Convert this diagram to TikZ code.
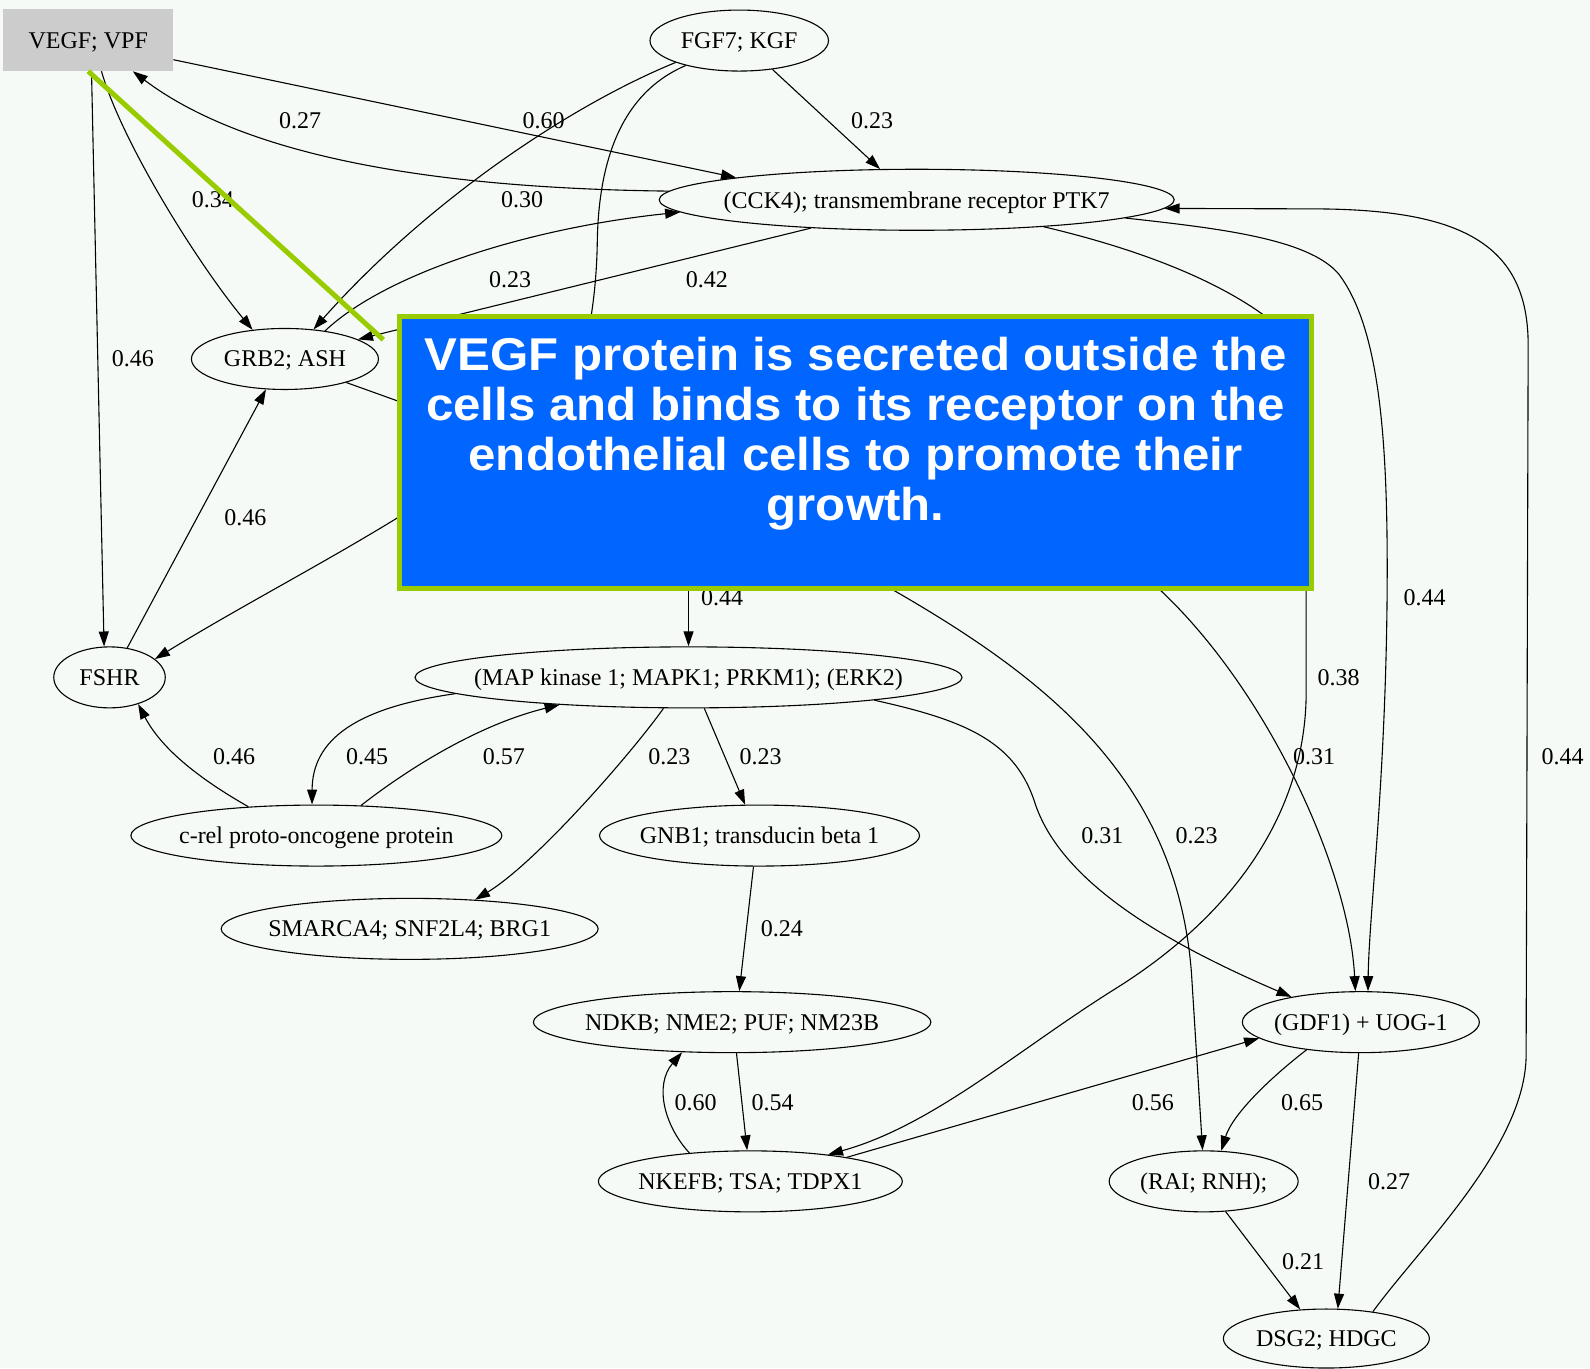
\documentclass[tikz,border=0pt]{standalone}
\usepackage{fontspec}
\setmainfont{Liberation Serif}
\newfontfamily\calloutfont[FakeStretch=1.07]{Liberation Sans}
\usetikzlibrary{shapes.geometric,arrows.meta}

\definecolor{paper}{RGB}{246,250,246}
\definecolor{vegfgray}{RGB}{204,204,204}
\definecolor{calloutblue}{RGB}{0,102,255}
\definecolor{calloutgreen}{RGB}{153,204,0}

% gene labels are set in a zero-width box so the ellipse size comes from minimum width
\newcommand\genetext[1]{\makebox[0pt]{#1}}

\begin{document}
\begin{tikzpicture}[x=1.014pt,y=-1.014pt,
  gene/.style={ellipse,draw,line width=1.1pt,inner sep=0pt,minimum height=61pt,
    text depth=0pt,font=\fontsize{24}{28}\selectfont},
  link/.style={line width=1.1pt,-{Triangle[length=15pt,width=10pt]}},
  plainlink/.style={line width=1.1pt},
  wt/.style={font=\fontsize{24}{28}\selectfont,inner sep=0pt},
  callout/.style={draw=calloutgreen,fill=calloutblue,line width=5.2pt,inner sep=0pt,
    minimum width=912pt,minimum height=272pt},
]
% canvas
\fill[paper] (0,0) rectangle (1568,1349);

% ---------------- nodes ----------------
\node[fill=vegfgray,inner sep=0pt,minimum width=170pt,minimum height=62pt,text depth=0pt,
      font=\fontsize{24}{28}\selectfont] (vegf) at (87,39.5) {VEGF; VPF};
\node[gene,minimum width=178.5pt] (fgf) at (729,40) {\genetext{FGF7; KGF}};
\node[gene,minimum width=515pt] (cck) at (904,197) {\genetext{(CCK4); transmembrane receptor PTK7}};
\node[gene,minimum width=187pt] (grb) at (281,354) {\genetext{GRB2; ASH}};
\node[gene,minimum width=111.5pt] (fshr) at (108,668) {\genetext{FSHR}};
\node[gene,minimum width=547pt] (map) at (679,668) {\genetext{(MAP kinase 1; MAPK1; PRKM1); (ERK2)}};
\node[gene,minimum width=371pt] (crel) at (312,824) {\genetext{c-rel proto-oncogene protein}};
\node[gene,minimum width=320pt] (gnb) at (749,824) {\genetext{GNB1; transducin beta 1}};
\node[gene,minimum width=377pt] (smarca) at (404,916) {\genetext{SMARCA4; SNF2L4; BRG1}};
\node[gene,minimum width=397.5pt] (ndkb) at (722,1008) {\genetext{NDKB; NME2; PUF; NM23B}};
\node[gene,minimum width=237pt] (gdf) at (1342,1008) {\genetext{(GDF1) + UOG-1}};
\node[gene,minimum width=304pt] (nkefb) at (740,1165) {\genetext{NKEFB; TSA; TDPX1}};
\node[gene,minimum width=189pt] (rai) at (1187,1165) {\genetext{(RAI; RNH);}};
\node[gene,minimum width=206pt,minimum height=59pt] (dsg) at (1308,1320) {\genetext{DSG2; HDGC}};

% ends of connectors that run under the note
\coordinate (fgfin) at (578,345);
\coordinate (grbout) at (430,409);
\coordinate (hubfshr) at (440,480);
\coordinate (cckout) at (1275,335);
\coordinate (hubmap) at (679,560);
\coordinate (hubrai) at (860,570);
\coordinate (hubgdf) at (1125,565);
\coordinate (hubnk) at (1288,565);
\coordinate (pin) at (378,335);

% ---------------- connectors ----------------
\draw[link] (vegf.-13) -- (cck.173);
\draw[link] (cck.178) .. controls (450,186) and (250,160) .. (vegf.-35);
\draw[link] (vegf.-67) .. controls (120,140) and (195,260) .. (grb.138);
\draw[link] (vegf.-84) -- (fshr.100);

\draw[link] (fgf.199) .. controls (560,105) and (420,200) .. (grb.46);
\draw[plainlink] (fgf.205) .. controls (612,92) and (590,160) .. (589,240)
  .. controls (588,290) and (582,315) .. (fgfin);
\draw[link] (fgf.-41) -- (cck.140);

\draw[link] (grb.35) .. controls (380,270) and (520,225) .. (cck.183);
\draw[link] (cck.195) -- (grb.15);
\draw[link] (fshr.59) -- (grb.238);
\draw[plainlink] (grb.-21) -- (grbout);
\draw[link] (hubfshr) .. controls (350,540) and (250,590) .. (fshr.22);

\draw[plainlink] (cck.-12) .. controls (1120,245) and (1220,280) .. (cckout);
\draw[link] (cck.-5) .. controls (1200,225) and (1290,235) .. (1320,270)
  .. controls (1358,320) and (1368,420) .. (1368,560)
  .. controls (1368,760) and (1350,900) .. (gdf.77);
\draw[link] (dsg.30) .. controls (1400,1230) and (1505,1130) .. (1505,1040)
  -- (1507,340) .. controls (1507,240) and (1440,207) .. (1300,206) -- (cck.-2);

\draw[link] (hubmap) -- (map.90);
\draw[link] (hubrai) .. controls (1020,660) and (1160,760) .. (1175,960) -- (rai.92);
\draw[link] (hubgdf) .. controls (1240,660) and (1330,850) .. (gdf.100);
\draw[link] (hubnk) -- (1288,690) .. controls (1285,800) and (1220,900) .. (1100,975)
  .. controls (1004,1035) and (920,1110) .. (nkefb.19);

\draw[link] (map.-7) .. controls (950,710) and (1000,730) .. (1020,790)
  .. controls (1045,870) and (1150,930) .. (gdf.160);
\draw[link] (map.184) .. controls (350,698) and (308,730) .. (crel.98);
\draw[link] (crel.34) .. controls (400,760) and (470,715) .. (map.192);
\draw[link] (crel.157) .. controls (200,770) and (160,740) .. (fshr.-43);
\draw[link] (map.231) .. controls (625,740) and (530,850) .. (smarca.24);
\draw[link] (map.-63) -- (gnb.115);
\draw[link] (gnb.259) -- (ndkb.77);
\draw[link] (nkefb.155) .. controls (655,1110) and (645,1070) .. (ndkb.211);
\draw[link] (ndkb.-82) -- (nkefb.96);
\draw[link] (nkefb.14) -- (gdf.189);
\draw[link] (gdf.207) .. controls (1250,1065) and (1215,1100) .. (rai.60);
\draw[link] (gdf.266) -- (dsg.69);
\draw[link] (rai.-54) -- (dsg.132);

% ---------------- weights ----------------
\node[wt] (w01) at (296,119) {0.27};
\node[wt] (w02) at (536,119) {0.60};
\node[wt] (w03) at (860,119) {0.23};
\node[wt] (w04) at (210,197) {0.34};
\node[wt] (w05) at (515,197) {0.30};
\node[wt] (w06) at (503,276) {0.23};
\node[wt] (w07) at (697,276) {0.42};
\node[wt] (w08) at (131,354) {0.46};
\node[wt] (w09) at (242,511) {0.46};
\node[wt] (w10) at (712,589) {0.44};
\node[wt] (w11) at (1405,589) {0.44};
\node[wt] (w12) at (1320,668) {0.38};
\node[wt] (w13) at (231,746) {0.46};
\node[wt] (w14) at (362,746) {0.45};
\node[wt] (w15) at (497,746) {0.57};
\node[wt] (w16) at (660,746) {0.23};
\node[wt] (w17) at (750,746) {0.23};
\node[wt] (w18) at (1296,746) {0.31};
\node[wt] (w19) at (1541,746) {0.44};
\node[wt] (w20) at (1087,824) {0.31};
\node[wt] (w21) at (1180,824) {0.23};
\node[wt] (w22) at (771,916) {0.24};
\node[wt] (w23) at (686,1087) {0.60};
\node[wt] (w24) at (762,1087) {0.54};
\node[wt] (w25) at (1137,1087) {0.56};
\node[wt] (w26) at (1284,1087) {0.65};
\node[wt] (w27) at (1370,1165) {0.27};
\node[wt] (w28) at (1285,1244) {0.21};

% ---------------- note ----------------
\node[callout] (note) at (843.75,446) {};
\node[anchor=north,align=center,inner sep=0pt,text=white,
      font=\calloutfont\bfseries\fontsize{46}{50}\selectfont] (notetext) at (843.75,332)
  {VEGF protein is secreted outside the\\cells and binds to its receptor on the\\endothelial cells to promote their\\growth.};
\draw[calloutgreen,line width=5pt] (vegf.south) -- (pin);
\end{tikzpicture}
\end{document}
